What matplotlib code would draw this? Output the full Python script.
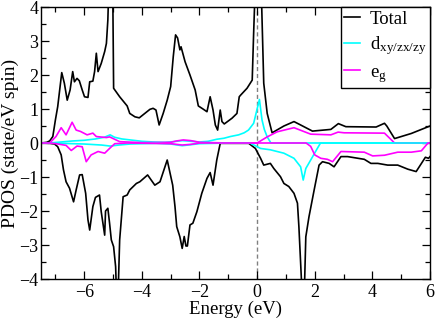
import matplotlib
matplotlib.use("Agg")
import matplotlib.pyplot as plt
from matplotlib.ticker import MultipleLocator

plt.rcParams['font.family'] = ['Liberation Serif', 'DejaVu Serif']
plt.rcParams['mathtext.fontset'] = 'custom'
plt.rcParams['mathtext.rm'] = 'Liberation Serif'
plt.rcParams['mathtext.it'] = 'Liberation Serif:italic'

# ---------------- data ----------------
total_up_E = [-7.5, -7.3, -7.2, -7.09, -7.0, -6.92, -6.78, -6.69, -6.59, -6.49, -6.40, -6.34, -6.25,
              -6.17, -6.07, -5.99, -5.87, -5.81, -5.70, -5.64, -5.58, -5.52, -5.41, -5.29, -5.23,
              -5.18, -5.08, -5.02, -4.98, -4.77, -4.51, -4.42, -4.24, -4.09, -3.72, -3.61, -3.51,
              -3.40, -3.26, -3.12, -3.00, -2.91, -2.83, -2.76, -2.68, -2.64, -2.50, -2.33, -2.15,
              -2.04, -1.86, -1.74, -1.63, -1.53, -1.45, -1.37, -1.28, -1.22, -1.14, -0.87, -0.70,
              -0.62, -0.57, -0.35, -0.17, -0.12, 0.03, 0.16, 0.23, 0.35, 0.52, 0.93, 1.28, 1.51,
              1.92, 2.56, 2.82, 3.08, 4.13, 4.42, 4.50, 4.77, 5.35, 6.0]
total_up = [0.0, 0.02, 0.06, 0.19, 0.68, 1.07, 2.07, 1.76, 1.26, 1.56, 2.10, 1.80, 1.90,
            1.83, 1.56, 1.36, 1.34, 1.80, 1.82, 2.10, 2.64, 2.10, 2.34, 2.69, 2.93,
            3.62, 6.5, 5.5, 1.61, 1.36, 1.09, 0.87, 0.77, 0.74, 0.99, 1.02, 0.97,
            0.53, 0.87, 1.26, 1.66, 2.54, 3.18, 3.09, 2.74, 2.83, 2.39, 2.00, 1.56,
            1.09, 0.99, 0.92, 1.36, 0.97, 0.53, 0.38, 0.97, 0.63, 0.56, 0.73, 0.87,
            1.36, 1.41, 1.61, 1.85, 3.24, 7.0, 4.0, 1.76, 0.87, 0.30, 0.50, 0.63, 0.53,
            0.35, 0.40, 0.57, 0.48, 0.47, 0.58, 0.50, 0.13, 0.28, 0.50]

total_dn_E = [-7.5, -7.2, -7.03, -6.92, -6.80, -6.72, -6.63, -6.51, -6.37, -6.28, -6.16, -6.07,
              -5.95, -5.87, -5.81, -5.70, -5.61, -5.47, -5.41, -5.29, -5.26, -5.18, -5.12, -5.06,
              -4.98, -4.91, -4.85, -4.77, -4.65, -4.51, -4.42, -4.19, -4.07, -3.80, -3.55, -3.37,
              -3.12, -2.93, -2.85, -2.79, -2.68, -2.60, -2.53, -2.47, -2.42, -2.33, -2.23, -2.09,
              -1.92, -1.74, -1.63, -1.53, -1.40, -1.28, -0.29, -0.06, 0.12, 0.23, 0.46, 0.58,
              0.81, 0.93, 1.10, 1.28, 1.40, 1.45, 1.61, 1.69, 1.80, 1.98, 2.15, 2.27, 2.50,
              2.67, 2.91, 3.14, 3.72, 3.95, 4.19, 4.53, 4.88, 5.23, 5.52, 5.84, 5.95, 6.0]
total_dn = [0.0, -0.01, -0.03, -0.11, -0.35, -0.79, -1.14, -1.33, -1.73, -1.38, -0.94, -0.93,
            -1.48, -2.26, -2.56, -1.87, -1.60, -1.53, -2.02, -2.71, -2.00, -1.92, -2.36, -2.85,
            -3.05, -3.64, -5.2, -2.85, -1.58, -1.53, -1.38, -1.19, -1.14, -0.94, -1.24, -1.14,
            -0.50, -1.24, -1.87, -2.46, -2.76, -3.10, -2.75, -3.03, -3.03, -2.41, -2.36, -2.02,
            -1.48, -1.04, -0.87, -1.24, -0.50, -0.01, -0.01, -0.16, -0.45, -0.65, -0.60, -0.75,
            -0.99, -1.19, -1.28, -1.48, -1.77, -2.46, -5.3, -2.76, -2.17, -1.38, -0.65, -0.55,
            -0.60, -0.70, -0.40, -0.40, -0.48, -0.60, -0.60, -0.65, -0.65, -0.77, -0.84, -0.42,
            -0.45, -0.40]

d_up_E = [-7.5, -7.2, -6.8, -6.4, -6.0, -5.6, -5.3, -5.1, -4.95, -4.7, -4.3, -4.0, -3.6, -3.2,
          -2.9, -2.6, -2.3, -2.0, -1.7, -1.4, -1.15, -0.93, -0.64, -0.45, -0.30, -0.12, 0.0,
          0.08, 0.17, 0.25, 0.35, 0.48, 6.0]
d_up = [0.0, 0.0, 0.03, 0.06, 0.08, 0.12, 0.17, 0.24, 0.17, 0.12, 0.08, 0.05, 0.03, 0.02,
        0.04, 0.07, 0.05, 0.03, 0.05, 0.11, 0.14, 0.19, 0.24, 0.30, 0.38, 0.58, 1.00,
        1.28, 0.68, 0.40, 0.18, 0.0, 0.0]

d_dn_E = [-7.5, -7.2, -6.8, -6.0, -5.4, -5.1, -4.8, -4.4, -4.0, -3.5, -3.0, -2.6, -2.3, -2.0,
          -1.5, -1.0, -0.25, 0.12, 0.46, 0.93, 1.28, 1.51, 1.60, 1.69, 1.86, 2.09, 2.2, 6.0]
d_dn = [0.0, 0.0, -0.01, -0.03, -0.06, -0.09, -0.06, -0.03, -0.02, -0.01, -0.03, -0.08, -0.05, -0.02,
        -0.01, 0.0, 0.0, -0.16, -0.20, -0.30, -0.45, -0.70, -1.09, -0.75, -0.50, -0.16, 0.0, 0.0]

eg_up_E = [-7.5, -7.2, -6.98, -6.80, -6.63, -6.42, -6.28, -6.13, -5.90, -5.70, -5.58, -5.23, -5.12,
           -4.77, -4.0, -3.0, -2.8, -2.56, -2.3, -2.0, -1.5, -1.0, 0.0, 0.35, 0.70, 1.28, 1.86,
           2.56, 2.81, 3.02, 4.42, 4.77, 6.0]
eg_up = [0.0, 0.0, 0.19, 0.45, 0.24, 0.61, 0.38, 0.34, 0.24, 0.29, 0.19, 0.16, 0.18,
         0.04, 0.01, 0.02, 0.06, 0.09, 0.07, 0.02, 0.01, 0.0, 0.0, 0.18, 0.33, 0.45, 0.26,
         0.24, 0.32, 0.30, 0.29, 0.0, 0.0]

eg_dn_E = [-7.5, -7.2, -6.98, -6.63, -6.45, -6.25, -6.07, -5.93, -5.76, -5.52, -5.29, -5.12, -4.94,
           -4.5, -3.0, -2.6, -2.3, -2.0, 1.7, 1.86, 2.0, 2.21, 2.44, 2.62, 2.91, 3.72, 4.01,
           4.42, 4.88, 5.35, 5.70, 5.93, 6.0]
eg_dn = [0.0, 0.0, -0.02, -0.07, -0.22, -0.09, -0.11, -0.55, -0.35, -0.25, -0.30, -0.16, -0.02,
         0.0, -0.02, -0.06, -0.04, 0.0, 0.0, -0.10, -0.35, -0.45, -0.48, -0.55, -0.25, -0.27, -0.38,
         -0.36, -0.27, -0.27, -0.23, 0.0, 0.0]

labels = ['Total', r'd$_{\mathrm{xy/zx/zy}}$', r'e$_{\mathrm{g}}$']
colors = ['black', '#00FFFF', '#FF00FF']

# ---------------- figure ----------------
fig = plt.figure(figsize=(4.36, 3.19), dpi=100)
ax = fig.add_axes([41/436, 1 - 279/319, (430 - 41)/436, (279 - 7)/319])

lw = 1.2
ax.plot(total_up_E, total_up, color=colors[0], lw=lw, label=labels[0])
ax.plot(total_dn_E, total_dn, color=colors[0], lw=lw)
ax.plot(d_up_E, d_up, color=colors[1], lw=lw, label=labels[1])
ax.plot(eg_up_E, eg_up, color=colors[2], lw=lw, label=labels[2])
ax.plot(d_dn_E, d_dn, color=colors[1], lw=lw)
ax.plot(eg_dn_E, eg_dn, color=colors[2], lw=lw)
ax.axvline(0, color='#808080', lw=1.0, ls=(0, (3, 2)), zorder=0)

ax.set_xlim(-7.5, 6)
ax.set_ylim(-4, 4)
ax.xaxis.set_major_locator(MultipleLocator(2))
ax.xaxis.set_minor_locator(MultipleLocator(1))
ax.yaxis.set_major_locator(MultipleLocator(1))
ax.yaxis.set_minor_locator(MultipleLocator(0.5))
ax.tick_params(which='both', direction='in', top=True, right=True, labelsize=13, width=0.9)
ax.tick_params(which='major', length=6)
ax.tick_params(which='minor', length=3.5)
ax.tick_params(axis='y', which='major', pad=2)
for s in ax.spines.values():
    s.set_linewidth(1.0)

ax.set_xlabel('Energy (eV)', fontsize=13.5, labelpad=0)
ax.set_ylabel('PDOS (state/eV spin)', fontsize=14, labelpad=0)

leg = ax.legend(loc='upper right', fontsize=13.5, frameon=True, fancybox=False,
                edgecolor='black', framealpha=1, borderaxespad=0, handlelength=0.85,
                handletextpad=0.5, labelspacing=0.35, borderpad=0.2)
leg.get_frame().set_linewidth(1.0)

fig.savefig('out.png', dpi=100)
